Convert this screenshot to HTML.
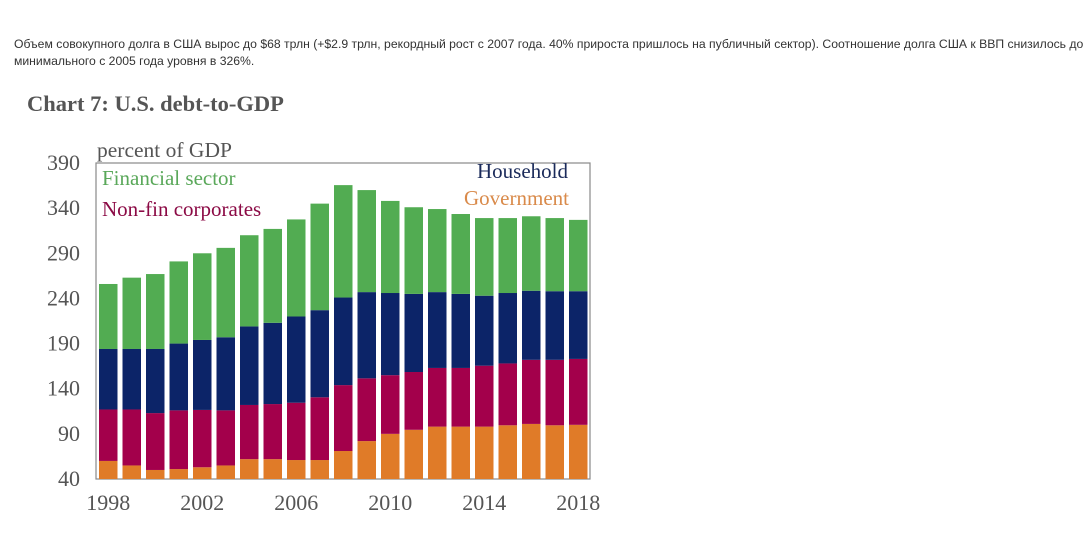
<!DOCTYPE html>
<html><head><meta charset="utf-8">
<style>
html,body{margin:0;padding:0;background:#fff;width:1090px;height:541px;overflow:hidden}
.p{position:absolute;left:14px;top:36px;width:1075px;font:12.2px/17px "Liberation Sans","DejaVu Sans",sans-serif;color:#333;white-space:nowrap}
svg{position:absolute;left:0;top:0}
</style></head><body>
<div class="p">Объем совокупного долга в США вырос до $68 трлн (+$2.9 трлн, рекордный рост с 2007 года. 40% прироста пришлось на публичный сектор). Соотношение долга США к ВВП снизилось до<br>минимального с 2005 года уровня в 326%.</div>
<svg width="1090" height="541">
<text x="27" y="111" font-family="Liberation Serif,serif" font-weight="bold" font-size="22.5" fill="#555">Chart 7: U.S. debt-to-GDP</text>
<text x="97" y="157" font-family="Liberation Serif,serif" font-size="21.5" fill="#555">percent of GDP</text>
<rect x="96" y="163" width="494" height="316" fill="#fff" stroke="#888" stroke-width="1.2"/>
<g id="bars"></g>
<g id="yt"></g>
<g id="xt"></g>
<text x="102" y="185" font-family="Liberation Serif,serif" font-size="21" fill="#5aa85a">Financial sector</text>
<text x="102" y="216" font-family="Liberation Serif,serif" font-size="21" fill="#8b0a45">Non-fin corporates</text>
<text x="568" y="178" text-anchor="end" font-family="Liberation Serif,serif" font-size="21" fill="#1a2a5a">Household</text>
<text x="569" y="205" text-anchor="end" font-family="Liberation Serif,serif" font-size="21" fill="#d98a4a">Government</text>
</svg>
<script>
const years=[1998,1999,2000,2001,2002,2003,2004,2005,2006,2007,2008,2009,2010,2011,2012,2013,2014,2015,2016,2017,2018];
const government=[60,55,50,51,53,55,62,62,61,61,71,82,90,94.5,98,98,98,99.5,101,99.5,100];
const nonfin=[57,62,63,65,63.5,61,60,61,63.5,69.5,73,69.5,65,64,65,65,67.5,68.5,71,72.5,73];
const household=[67,67,71,74,77.5,81,87,90,95.5,96.5,97,95.5,91,86.5,84,82,77.5,78,76.5,76,75];
const financial=[72,79,83,91,96,99,101,104,107.5,118,124.5,113,102,96,92,88.5,86,83,82.5,81,79];
const yTicks=[40,90,140,190,240,290,340,390];
const xTicks=[1998,2002,2006,2010,2014,2018];
(function(){
const yMin=40,yMax=390,plotTop=163,plotBot=479;
const y=v=>plotBot-(v-yMin)/(yMax-yMin)*(plotBot-plotTop);
const pitch=23.5,bw=18.5,x0=99;
const x=i=>x0+i*pitch;
const NS="http://www.w3.org/2000/svg";
const bars=document.getElementById('bars');
const series=[["government",government,"#e07b28"],["nonfin",nonfin,"#a3004b"],["household",household,"#0c2468"],["financial",financial,"#52ac52"]];
years.forEach((yr,i)=>{
  let base=yMin;
  series.forEach(([nm,arr,col])=>{
    const b=(nm==="government")?yMin:base;
    const t=(nm==="government")?arr[i]:base+arr[i];
    const r=document.createElementNS(NS,'rect');
    r.setAttribute('x',x(i));r.setAttribute('width',bw);
    r.setAttribute('y',y(t));r.setAttribute('height',y(b)-y(t));
    r.setAttribute('fill',col);
    
    
    bars.appendChild(r);
    base=t;
  });
});
const yt=document.getElementById('yt');
yTicks.forEach(v=>{
  const t=document.createElementNS(NS,'text');
  t.setAttribute('x',80);t.setAttribute('y',y(v)+7);t.setAttribute('text-anchor','end');
  t.setAttribute('font-family','Liberation Serif,serif');t.setAttribute('font-size','22');t.setAttribute('fill','#555');
  t.textContent=v;
  
  
  yt.appendChild(t);
});
const xt=document.getElementById('xt');
xTicks.forEach(v=>{
  const i=years.indexOf(v);
  const t=document.createElementNS(NS,'text');
  t.setAttribute('x',x(i)+bw/2);t.setAttribute('y',510);t.setAttribute('text-anchor','middle');
  t.setAttribute('font-family','Liberation Serif,serif');t.setAttribute('font-size','22');t.setAttribute('fill','#555');
  t.textContent=v;
  
  
  xt.appendChild(t);
});
})();
</script>
</body></html>
